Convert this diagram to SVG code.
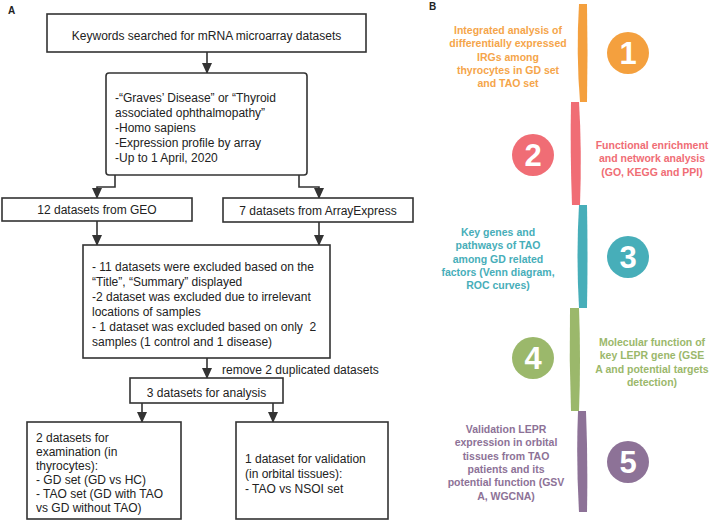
<svg xmlns="http://www.w3.org/2000/svg" width="709" height="524" viewBox="0 0 709 524">
<defs>
<style>
.box{fill:#fff;stroke:#333;stroke-width:1.6}
.ln{fill:none;stroke:#333;stroke-width:1.6}
.t{font-family:"Liberation Sans",Arial,sans-serif;font-size:12px;fill:#222}
.c{text-anchor:middle}
.lbl{font-family:"Liberation Sans",Arial,sans-serif;font-size:10px;font-weight:bold;fill:#222}
.bt{font-family:"Liberation Sans",Arial,sans-serif;font-size:10.5px;font-weight:bold;text-anchor:middle}
.num{font-family:"Liberation Sans",Arial,sans-serif;font-size:31px;font-weight:bold;fill:#fff;text-anchor:middle}
</style>
<marker id="ah" markerWidth="11" markerHeight="10" refX="10" refY="5" orient="auto" markerUnits="userSpaceOnUse" viewBox="0 0 11 10" preserveAspectRatio="none">
<path d="M0,0 L11,5 L0,10 Z" fill="#333"/>
</marker>
</defs>
<rect width="709" height="524" fill="#fff"/>
<text class="lbl" x="8" y="14">A</text>
<text class="lbl" x="429" y="10">B</text>

<g id="connectors">
<path class="ln" d="M207,52 V73" marker-end="url(#ah)"/>
<path class="ln" d="M115,175 V187 H97 V198" marker-end="url(#ah)"/>
<path class="ln" d="M299,175 V187 H319 V198" marker-end="url(#ah)"/>
<path class="ln" d="M97,221 V245" marker-end="url(#ah)"/>
<path class="ln" d="M319,222 V245" marker-end="url(#ah)"/>
<path class="ln" d="M207,358 V378" marker-end="url(#ah)"/>
<text class="t" x="222" y="373.5">remove 2 duplicated datasets</text>
<path class="ln" d="M142,403 V422" marker-end="url(#ah)"/>
<path class="ln" d="M273,403 V422" marker-end="url(#ah)"/>
</g>

<g id="n1">
<rect class="box" x="47" y="14" width="319" height="38"/>
<text class="t c" x="206.5" y="40">Keywords searched for mRNA microarray datasets</text>
</g>
<g id="n2">
<rect class="box" x="106" y="73" width="201" height="102" rx="3"/>
<text class="t" x="115" y="101.5">-“Graves’ Disease” or “Thyroid</text>
<text class="t" x="115" y="116.5">associated ophthalmopathy”</text>
<text class="t" x="115" y="131.5">-Homo sapiens</text>
<text class="t" x="115" y="146.5">-Expression profile by array</text>
<text class="t" x="115" y="161.5">-Up to 1 April, 2020</text>
</g>
<g id="n3">
<rect class="box" x="2" y="198" width="190" height="23"/>
<text class="t c" x="97" y="214">12 datasets from GEO</text>
</g>
<g id="n4">
<rect class="box" x="223" y="198" width="190" height="24"/>
<text class="t c" x="318" y="214.5">7 datasets from ArrayExpress</text>
</g>
<g id="n5">
<rect class="box" x="83" y="245" width="247" height="113"/>
<text class="t" x="92" y="270.5">- 11 datasets were excluded based on the</text>
<text class="t" x="92" y="285.5">“Title”, “Summary” displayed</text>
<text class="t" x="92" y="300.5">-2 dataset was excluded due to irrelevant</text>
<text class="t" x="92" y="315.5">locations of samples</text>
<text class="t" x="92" y="330.5" xml:space="preserve">- 1 dataset was excluded based on only  2</text>
<text class="t" x="92" y="345.5">samples (1 control and 1 disease)</text>
</g>
<g id="n6">
<rect class="box" x="130" y="378" width="153" height="25"/>
<text class="t c" x="206.5" y="397">3 datasets for analysis</text>
</g>
<g id="n7">
<rect class="box" x="27" y="422" width="154" height="97"/>
<text class="t" x="36" y="442">2 datasets for</text>
<text class="t" x="36" y="456">examination (in</text>
<text class="t" x="36" y="470">thyrocytes):</text>
<text class="t" x="36" y="484">- GD set (GD vs HC)</text>
<text class="t" x="36" y="498">- TAO set (GD with TAO</text>
<text class="t" x="36" y="512">vs GD without TAO)</text>
</g>
<g id="n8">
<rect class="box" x="236" y="422" width="152" height="97"/>
<text class="t" x="245" y="463">1 dataset for validation</text>
<text class="t" x="245" y="478">(in orbital tissues):</text>
<text class="t" x="245" y="493">- TAO vs NSOI set</text>
</g>

<g id="step1">
<path d="M579,4 L587,4 Q588,53 587,102 L580,102 Q576,53 579,4 Z" fill="#F4A03E"/>
<circle cx="628" cy="53" r="21" fill="#F4A03E"/>
<text class="num" x="628" y="64">1</text>
<g class="bt" fill="#F5A54A">
<text x="508" y="34">Integrated analysis of</text>
<text x="508" y="47.3">differentially expressed</text>
<text x="508" y="60.6">IRGs among</text>
<text x="508" y="74">thyrocytes in GD set</text>
<text x="508" y="87.3">and TAO set</text>
</g>
</g>
<g id="step2">
<path d="M571,102 L579,102 Q582,150 580,205 L572,205 Q570,150 571,102 Z" fill="#F06D75"/>
<circle cx="533" cy="155" r="21" fill="#F06D75"/>
<text class="num" x="533" y="166">2</text>
<g class="bt" fill="#F06D75">
<text x="652" y="149">Functional enrichment</text>
<text x="652" y="162.3">and network analysis</text>
<text x="652" y="175.6">(GO, KEGG and PPI)</text>
</g>
</g>
<g id="step3">
<path d="M579,205 L587,205 Q588,256 587,308 L579,308 Q576,256 579,205 Z" fill="#47AEB9"/>
<circle cx="628" cy="257" r="21" fill="#47AEB9"/>
<text class="num" x="628" y="268">3</text>
<g class="bt" fill="#47AEB9">
<text x="498" y="236">Key genes and</text>
<text x="498" y="249.3">pathways of TAO</text>
<text x="498" y="262.6">among GD related</text>
<text x="498" y="276">factors (Venn diagram,</text>
<text x="498" y="289.3">ROC curves)</text>
</g>
</g>
<g id="step4">
<path d="M570,308 L579,308 Q581,360 579,411 L571,411 Q569,360 570,308 Z" fill="#9BB86B"/>
<circle cx="533" cy="358" r="21" fill="#9BB86B"/>
<text class="num" x="533" y="369">4</text>
<g class="bt" fill="#9BB86B">
<text x="652" y="346">Molecular function of</text>
<text x="652" y="359.3">key LEPR gene (GSE</text>
<text x="652" y="372.6">A and potential targets</text>
<text x="652" y="386">detection)</text>
</g>
</g>
<g id="step5">
<path d="M578,411 L586,411 Q588,460 587,512 L579,512 Q576,460 578,411 Z" fill="#8D7297"/>
<circle cx="628" cy="462" r="21" fill="#8D7297"/>
<text class="num" x="628" y="473">5</text>
<g class="bt" fill="#8D7297">
<text x="506" y="433">Validation LEPR</text>
<text x="506" y="446.3">expression in orbital</text>
<text x="506" y="459.6">tissues from TAO</text>
<text x="506" y="473">patients and its</text>
<text x="506" y="486.3">potential function (GSV</text>
<text x="506" y="499.6">A, WGCNA)</text>
</g>
</g>
</svg>
